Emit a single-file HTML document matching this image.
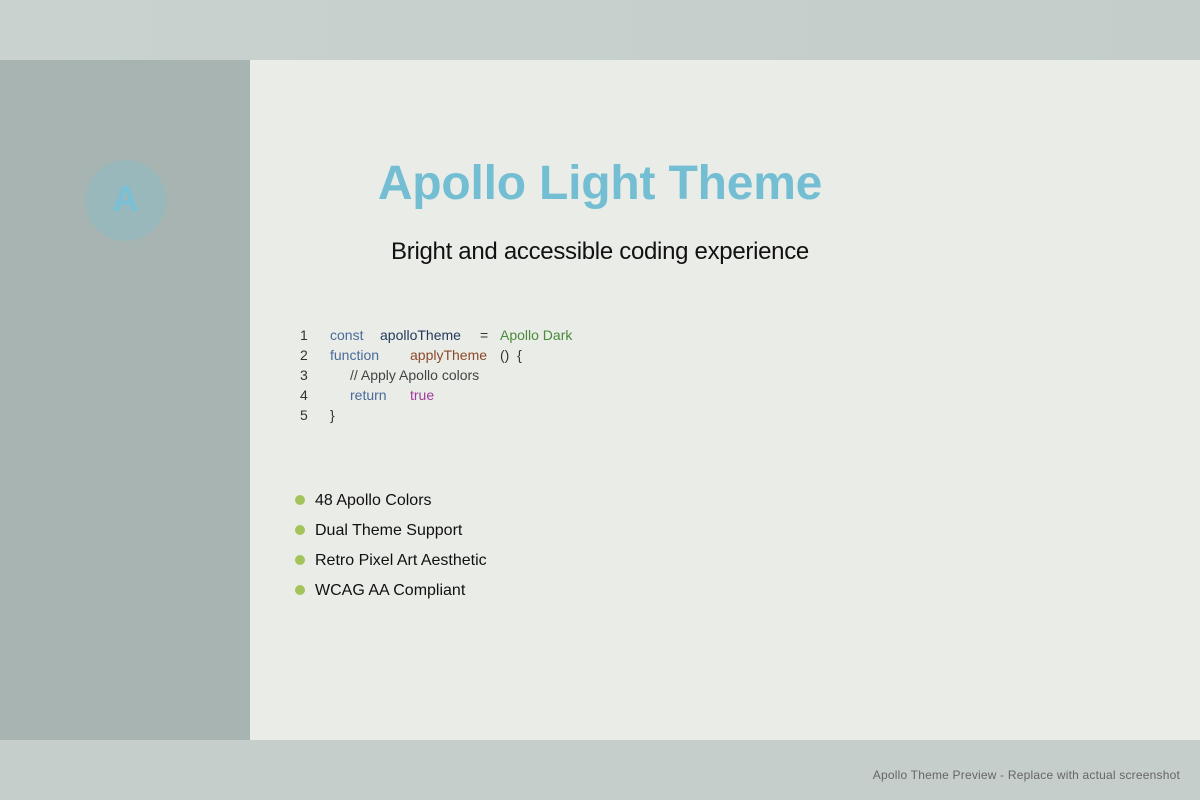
<!DOCTYPE html>
<html><head><meta charset="utf-8"><style>
body{margin:0;width:1200px;height:800px;position:relative;background:#c5cecb;font-family:"Liberation Sans",sans-serif;overflow:hidden}
.abs{position:absolute;white-space:nowrap}
.code{font-size:14px;line-height:20px}
</style></head><body>
<div class="abs" style="left:0;top:0;width:1200px;height:60px;background:linear-gradient(90deg,#c9d2cf,#c4cdca)"></div>
<div class="abs" style="left:0;top:60px;width:250px;height:680px;background:#a8b4b1"></div>
<div class="abs" style="left:250px;top:60px;width:950px;height:680px;background:#eaece7"></div>
<div class="abs" style="left:85px;top:160px;width:81px;height:81px;border-radius:50%;background:#98b8bc"></div>
<div class="abs" style="left:85px;top:178px;width:81px;text-align:center;font-size:36px;font-weight:bold;color:#79c0d6">A</div>
<div class="abs" style="left:0;width:1200px;top:156px;text-align:center;font-size:48px;font-weight:bold;color:#74bed3;letter-spacing:-0.2px">Apollo Light Theme</div>
<div class="abs" style="left:0;width:1200px;top:238px;text-align:center;font-size:24px;color:#111;letter-spacing:-0.3px">Bright and accessible coding experience</div>
<div class="abs code" style="left:300px;top:325px;color:#333">1<br>2<br>3<br>4<br>5</div>
<div class="abs code" style="left:330px;top:325px;color:#4a6a9a">const</div>
<div class="abs code" style="left:380px;top:325px;color:#243a5c">apolloTheme</div>
<div class="abs code" style="left:480px;top:325px;color:#333">=</div>
<div class="abs code" style="left:500px;top:325px;color:#4a8a3a">Apollo Dark</div>
<div class="abs code" style="left:330px;top:345px;color:#4a6a9a">function</div>
<div class="abs code" style="left:410px;top:345px;color:#8a4a2a">applyTheme</div>
<div class="abs code" style="left:500px;top:345px;color:#333">()&nbsp; {</div>
<div class="abs code" style="left:350px;top:365px;color:#444">// Apply Apollo colors</div>
<div class="abs code" style="left:350px;top:385px;color:#4a6a9a">return</div>
<div class="abs code" style="left:410px;top:385px;color:#a03a9a">true</div>
<div class="abs code" style="left:330px;top:405px;color:#333">}</div>
<div class="abs" style="left:295px;top:491px;font-size:16px;line-height:20px;color:#111">
<div style="height:30px"><span style="display:inline-block;width:10px;height:10px;border-radius:50%;background:#a3c45a;margin-right:10px"></span>48 Apollo Colors</div>
<div style="height:30px"><span style="display:inline-block;width:10px;height:10px;border-radius:50%;background:#a3c45a;margin-right:10px"></span>Dual Theme Support</div>
<div style="height:30px"><span style="display:inline-block;width:10px;height:10px;border-radius:50%;background:#a3c45a;margin-right:10px"></span>Retro Pixel Art Aesthetic</div>
<div style="height:30px"><span style="display:inline-block;width:10px;height:10px;border-radius:50%;background:#a3c45a;margin-right:10px"></span>WCAG AA Compliant</div>
</div>
<div class="abs" style="right:20px;top:768px;font-size:12px;color:#666;letter-spacing:0.2px">Apollo Theme Preview - Replace with actual screenshot</div>
</body></html>
